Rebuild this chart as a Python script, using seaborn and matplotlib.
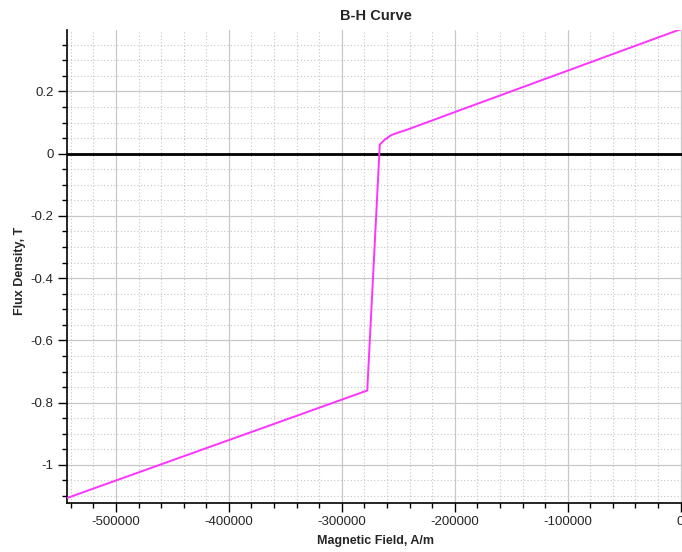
import pandas as pd
import matplotlib
matplotlib.use("Agg")
import matplotlib.pyplot as plt
import seaborn as sns
from matplotlib.ticker import MultipleLocator, FuncFormatter

# B-H curve points
field_h = [-543000, -277500, -266400, -262000, -256000, -250000, -243000, -199000, 0]
flux_b = [-1.106, -0.761, 0.029, 0.045, 0.060, 0.068, 0.076, 0.135, 0.400]

df = pd.DataFrame({"H": field_h, "B": flux_b})

sns.set_style("white")
plt.rcParams["font.family"] = ["Liberation Sans", "DejaVu Sans"]
plt.rcParams["axes.unicode_minus"] = False

fig = plt.figure(figsize=(6.82, 5.52), dpi=100)
ax = fig.add_axes([0.098, 0.089, 0.905, 0.857])

sns.lineplot(data=df, x="H", y="B", sort=False, estimator=None,
             color="#ff33ff", linewidth=1.4, ax=ax, zorder=3)
ax.axhline(0, color="black", linewidth=2, zorder=2)

ax.set_xlim(-543500, 3000)
ax.set_ylim(-1.122, 0.398)

ax.xaxis.set_major_locator(MultipleLocator(100000))
ax.xaxis.set_minor_locator(MultipleLocator(20000))
ax.yaxis.set_major_locator(MultipleLocator(0.2))
ax.yaxis.set_minor_locator(MultipleLocator(0.05))
ax.yaxis.set_major_formatter(FuncFormatter(lambda v, p: "%g" % round(v, 2)))
ax.xaxis.set_major_formatter(FuncFormatter(lambda v, p: "%d" % round(v)))

ax.grid(which="major", color="#c8c8c8", linewidth=0.9, linestyle="-")
ax.grid(which="minor", color="#c4c4c4", linewidth=0.8, linestyle=(0, (1, 2)))
ax.set_axisbelow(True)

for side in ["top", "right"]:
    ax.spines[side].set_visible(False)
for side in ["left", "bottom"]:
    ax.spines[side].set_color("black")
    ax.spines[side].set_linewidth(1.2)

ax.tick_params(which="major", direction="out", length=6.5, width=1, color="black",
               labelsize=9.5, left=True, bottom=True, pad=3)
ax.tick_params(which="minor", direction="out", length=3.5, width=1, color="black",
               left=True, bottom=True)

ax.set_title("B-H Curve", fontsize=10.5, fontweight="bold", pad=7)
ax.set_xlabel("Magnetic Field, A/m", fontsize=9, fontweight="bold")
ax.set_ylabel("Flux Density, T", fontsize=9, fontweight="bold")
ax.yaxis.set_label_coords(-0.066, 0.49)
ax.xaxis.set_label_coords(0.5, -0.068)

plt.savefig("out.png", dpi=100)
